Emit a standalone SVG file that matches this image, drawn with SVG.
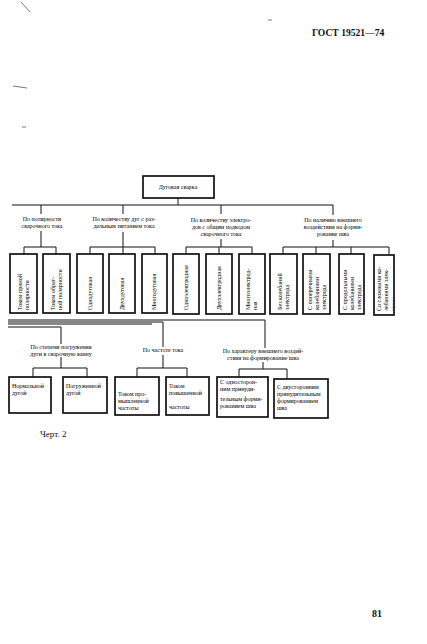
<svg xmlns="http://www.w3.org/2000/svg" width="427" height="644" viewBox="0 0 427 644">
<style>
.bx{fill:#fff;stroke:#111;stroke-width:1.7}
.ln{fill:none;stroke:#111;stroke-width:1}
.t{font-family:"Liberation Serif","DejaVu Serif",serif;font-size:6px;fill:#000}
.c{text-anchor:middle}
.h{font-family:"Liberation Serif","DejaVu Serif",serif;fill:#111}
.art{stroke:#555;stroke-width:0.8;fill:none}
</style>
<rect x="0" y="0" width="427" height="644" fill="#fff"/>
<g id="artifacts">
<line class="art" x1="21" y1="2" x2="30" y2="12"/>
<line class="art" x1="13" y1="86" x2="27" y2="88" stroke-width="1.2"/>
<line class="art" x1="22" y1="127" x2="26" y2="127"/>
<line class="art" x1="268" y1="20" x2="272" y2="20"/>
</g>
<text class="h" x="312" y="36" font-size="9.6" font-weight="bold">ГОСТ 19521—74</text>
<g id="connectors">
<path class="ln" d="M178 198V205M12 205H333"/>
<path class="ln" d="M41 205V214M41 231V247M24 247H56M24 247V254M56 247V254"/>
<path class="ln" d="M123 205V214M123 232V247M90 247H155M90 247V254M123 247V254M155 247V254"/>
<path class="ln" d="M221 205V214M221 239V247M186 247H252M186 247V254M219 247V254M252 247V254"/>
<path class="ln" d="M333 205V215M333 240V247M283 247H389M283 247V254M316 247V254M351 247V254M389 247V254"/>
<path class="ln" d="M8 320H265V348M8 322H163V347M8 324H152M8 327H61V344"/>
<path class="ln" d="M61 357V368M33 368H87M33 368V377M87 368V377"/>
<path class="ln" d="M163 355V368M137 368H187M137 368V377M187 368V377"/>
<path class="ln" d="M263 362V369M239 369H287M239 369V377M287 369V379"/>
</g>
<g id="n0"><rect class="bx" x="143" y="176" width="71" height="22"/><text class="t c" x="178" y="189">Дуговая сварка</text></g>
<g id="g1"><text class="t c" x="42" y="221">По полярности<tspan x="42" dy="7">сварочного тока</tspan></text></g>
<g id="g2"><text class="t c" x="124" y="221">По количеству дуг с раз-<tspan x="124" dy="7">дельным питанием тока</tspan></text></g>
<g id="g3"><text class="t c" x="221" y="222">По количеству электро-<tspan x="221" dy="7">дов с общим подводом</tspan><tspan x="221" dy="7">сварочного тока</tspan></text></g>
<g id="g4"><text class="t c" x="333" y="222">По наличию внешнего<tspan x="333" dy="7">воздействия на форми-</tspan><tspan x="333" dy="7">рование шва</tspan></text></g>
<g id="b1"><rect class="bx" x="10" y="254" width="27" height="59"/><text class="t" transform="translate(22,310) rotate(-90)">Током прямой<tspan x="0" y="7">полярности</tspan></text></g>
<g id="b2"><rect class="bx" x="43" y="254" width="27" height="59"/><text class="t" transform="translate(55,310) rotate(-90)">Током обрат-<tspan x="0" y="7">ной полярности</tspan></text></g>
<g id="b3"><rect class="bx" x="77" y="254" width="26" height="59"/><text class="t" transform="translate(92,310) rotate(-90)">Однодуговая</text></g>
<g id="b4"><rect class="bx" x="109" y="254" width="26" height="59"/><text class="t" transform="translate(124,310) rotate(-90)">Двухдуговая</text></g>
<g id="b5"><rect class="bx" x="142" y="254" width="25" height="59"/><text class="t" transform="translate(156,310) rotate(-90)">Многодуговая</text></g>
<g id="b6"><rect class="bx" x="173" y="254" width="26" height="60"/><text class="t" transform="translate(188,310) rotate(-90)">Одноэлектродная</text></g>
<g id="b7"><rect class="bx" x="206" y="254" width="26" height="60"/><text class="t" transform="translate(221,310) rotate(-90)">Двухэлектродная</text></g>
<g id="b8"><rect class="bx" x="239" y="254" width="26" height="60"/><text class="t" transform="translate(250,310) rotate(-90)">Многоэлектрод-<tspan x="0" y="7">ная</tspan></text></g>
<g id="b9"><rect class="bx" x="270" y="254" width="27" height="60"/><text class="t" transform="translate(282,310) rotate(-90)">Без колебаний<tspan x="0" y="7">электрода</tspan></text></g>
<g id="b10"><rect class="bx" x="303" y="254" width="27" height="60"/><text class="t" transform="translate(312,310) rotate(-90)">С поперечными<tspan x="0" y="7">колебаниями</tspan><tspan x="0" y="14">электрода</tspan></text></g>
<g id="b11"><rect class="bx" x="339" y="254" width="25" height="60"/><text class="t" transform="translate(347,310) rotate(-90)">С продольными<tspan x="0" y="7">колебаниями</tspan><tspan x="0" y="14">электрода</tspan></text></g>
<g id="b12"><rect class="bx" x="374" y="255" width="20" height="60"/><text class="t" transform="translate(381,311) rotate(-90)">Со сложными ко-<tspan x="0" y="7">лебаниями элек-</tspan><tspan x="0" y="14" fill-opacity="0.35">трода</tspan></text></g>
<g id="g5"><text class="t c" x="61" y="349">По степени погружения<tspan x="61" dy="7">дуги в сварочную ванну</tspan></text></g>
<g id="g6"><text class="t c" x="163" y="352">По частоте тока</text></g>
<g id="g7"><text class="t c" x="263" y="353">По характеру внешнего воздей-<tspan x="263" dy="7">ствия на формирование шва</tspan></text></g>
<g id="c1"><rect class="bx" x="9" y="377" width="42" height="36"/><text class="t" x="12" y="388">Нормальной<tspan x="12" dy="7">дугой</tspan></text></g>
<g id="c2"><rect class="bx" x="63" y="377" width="44" height="36"/><text class="t" x="66" y="388">Погруженной<tspan x="66" dy="7">дугой</tspan></text></g>
<g id="c3"><rect class="bx" x="115" y="377" width="44" height="38"/><text class="t" x="118" y="396">Током про-<tspan x="118" dy="7">мышленной</tspan><tspan x="118" dy="7">частоты</tspan></text></g>
<g id="c4"><rect class="bx" x="166" y="377" width="43" height="38"/><text class="t" x="169" y="388">Током<tspan x="169" dy="7">повышенной</tspan><tspan x="169" dy="14">частоты</tspan></text></g>
<g id="c5"><rect class="bx" x="217" y="377" width="51" height="40"/><text class="t" x="220" y="384">С односторон-<tspan x="220" dy="7">ним принуди-</tspan><tspan x="220" dy="10">тельным форми-</tspan><tspan x="220" dy="7">рованием шва</tspan></text></g>
<g id="c6"><rect class="bx" x="274" y="379" width="54" height="39"/><text class="t" x="277" y="389">С двусторонним<tspan x="277" dy="7">принудительным</tspan><tspan x="277" dy="7">формированием</tspan><tspan x="277" dy="7">шва</tspan></text></g>
<text class="h" x="40" y="437" font-size="9">Черт. 2</text>
<text class="h" x="372" y="617" font-size="10" font-weight="bold">81</text>
</svg>
